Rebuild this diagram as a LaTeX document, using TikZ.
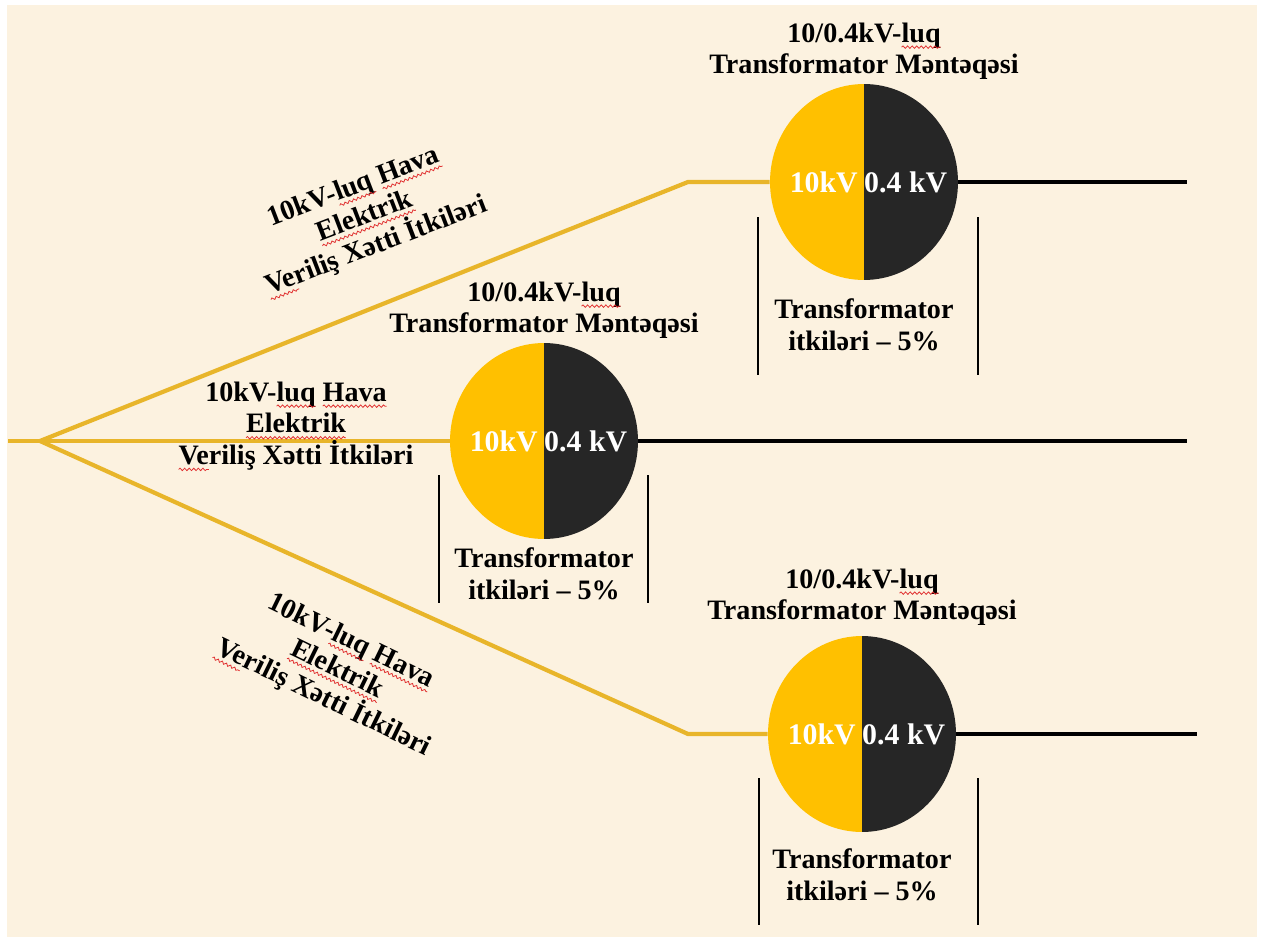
\documentclass[tikz,border=0pt]{standalone}
\usepackage{fontspec}
\setmainfont{Liberation Serif}
\usetikzlibrary{positioning,shapes.geometric,decorations.pathmorphing}

\definecolor{cream}{HTML}{FCF2E0}
\definecolor{gold}{HTML}{FFC000}
\definecolor{feedgold}{HTML}{E8B52A}
\definecolor{coal}{HTML}{262626}
\definecolor{squig}{HTML}{E03030}

% red wavy underline (spell-check marks)
\newcommand{\spl}[1]{\tikz[baseline=(w.base)]{\node[inner sep=0pt, outer sep=0pt] (w) {#1};
	\draw[overlay, squig, line width=0.45pt, decorate, decoration={snake, amplitude=0.7pt, segment length=2.6pt}]
	([yshift=-2.8pt]w.base west) -- ([yshift=-2.8pt]w.base east);}}

\tikzset{
  trafo/.style={ellipse, minimum width=3.76cm, minimum height=3.92cm, inner sep=0pt,
    path picture={
      \fill[gold] (path picture bounding box.south west) rectangle (path picture bounding box.north);
      \fill[coal] (path picture bounding box.south) rectangle (path picture bounding box.north east);
    }},
  feeder/.style={feedgold, line width=2.4pt, line join=round},
  lvline/.style={black, line width=1.8pt},
  bracket/.style={black, line width=0.8pt},
  lbl/.style={font=\bfseries\fontsize{16}{18}\selectfont, align=center, inner sep=0.19cm},
  volt/.style={font=\bfseries\fontsize{17}{20}\selectfont, text=white}
}

\begin{document}
\begin{tikzpicture}[x=0.02cm, y=-0.02cm]
	\useasboundingbox (0,0) rectangle (1261,940);
	% Background
	\fill[cream] (7,5) rectangle (1257,937);
	
	% Transformer stations
	\node[trafo] (tr1) at (864,182) {};
	\node[trafo] (tr2) at (544,441) {};
	\node[trafo] (tr3) at (862,734) {};
	
	% Feeders
	\coordinate (src) at (8,441);
	\coordinate (fork) at (40,441);
	\coordinate (k1) at (688,182);
	\coordinate (k3) at (688,734);
	\draw[feeder] (src) -- (tr2.west);
	\draw[feeder] (fork) -- (k1) -- (tr1.west);
	\draw[feeder] (fork) -- (k3) -- (tr3.west);
	
	% 0.4 kV outgoing lines
	\coordinate (e1) at (1187,182);
	\coordinate (e2) at (1187,441);
	\coordinate (e3) at (1197,734);
	\draw[lvline] (tr1.east) -- (e1);
	\draw[lvline] (tr2.east) -- (e2);
	\draw[lvline] (tr3.east) -- (e3);
	
	% Voltage labels
	\foreach \t in {tr1,tr2,tr3} {
		\node[volt, left=0pt] (\t hv) at (\t.center) {10kV};
		\node[volt, right=-0.12cm] (\t lv) at (\t.center) {0.4 kV};
	}
	
	% Station titles and losses
	\node[lbl, above=-0.12cm of tr1] (ttl1) {10/0.4kV-\spl{luq}\\Transformator Məntəqəsi};
	\node[lbl, above=-0.12cm of tr2] (ttl2) {10/0.4kV-\spl{luq}\\Transformator Məntəqəsi};
	\node[lbl, above=0pt of tr3] (ttl3) {10/0.4kV-\spl{luq}\\Transformator Məntəqəsi};
	\node[lbl, below=0.18cm of tr1] (loss1) {Transformator\\itkiləri -- 5\%};
	\node[lbl, below=-0.02cm of tr2] (loss2) {Transformator\\itkiləri -- 5\%};
	\node[lbl, below=0.14cm of tr3] (loss3) {Transformator\\itkiləri -- 5\%};
	
	% Line losses
	\node[lbl, rotate=21] (ohl1) at (365,217) {10kV-\spl{luq} \spl{Hava}\\\spl{Elektrik}\\\spl{Ve}riliş Xətti İtkiləri};
	\node[lbl] (ohl2) at (296,426) {10kV-\spl{luq} \spl{Hava}\\\spl{Elektrik}\\\spl{Ve}riliş Xətti İtkiləri};
	\node[lbl, rotate=-26] (ohl3) at (337,670) {10kV-\spl{luq} \spl{Hava}\\\spl{Elektrik}\\\spl{Ve}riliş Xətti İtkiləri};
	
	% Loss brackets
	\foreach \x/\ya/\yb in {758/217/375, 978/217/375, 439/475/603, 648/475/603, 759/778/925, 978/778/925}
	\draw[bracket] (\x,\ya) -- (\x,\yb);
\end{tikzpicture}
\end{document}
